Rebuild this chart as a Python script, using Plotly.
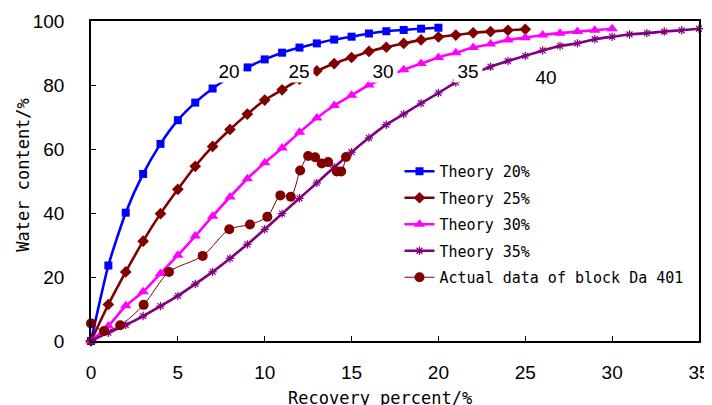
import plotly.graph_objects as go

# ---- data ----
x20 = list(range(0, 21))
y20 = [0, 23.6, 40.1, 52.2, 61.6, 69.0, 74.5, 78.9, 82.5, 85.5, 88.0,
       90.1, 91.7, 93.0, 94.2, 95.1, 96.1, 96.8, 97.2, 97.6, 97.9]

x25 = list(range(0, 26))
y25 = [0, 11.4, 21.6, 31.2, 39.8, 47.4, 54.6, 60.8, 66.1, 70.9, 75.3,
       78.5, 81.8, 84.4, 86.7, 88.6, 90.5, 91.8, 93.0, 94.1, 95.0,
       95.6, 96.3, 96.7, 97.1, 97.4]

x30 = list(range(0, 31))
y30 = [0, 4.7, 11.0, 15.4, 21.1, 26.8, 32.8, 39.0, 45.0, 50.7, 55.7,
       60.3, 65.2, 69.7, 73.6, 76.8, 80.0, 82.5, 84.8, 86.7, 88.6,
       90.1, 91.7, 92.8, 94.1, 94.8, 95.6, 96.2, 96.7, 97.1, 97.6]

x35 = list(range(0, 36))
y35 = [0, 2.6, 5.0, 7.8, 10.9, 14.1, 17.8, 21.6, 25.8, 30.2, 34.9,
       39.8, 44.6, 49.4, 54.3, 59.0, 63.5, 67.6, 70.9, 74.3, 77.5,
       80.8, 83.5, 85.7, 87.5, 89.1, 90.8, 92.2, 93.0, 94.3, 95.1,
       95.8, 96.2, 96.7, 97.1, 97.6]

x_actual = [0, 0.75, 1.68, 3.03, 4.49, 6.43, 7.96, 9.15, 10.15, 10.9,
            11.5, 12.04, 12.5, 12.9, 13.28, 13.65, 14.15, 14.4, 14.68]
y_actual = [5.5, 3.1, 4.9, 11.3, 21.6, 26.6, 34.9, 36.4, 38.8, 45.5,
            45.1, 53.3, 57.8, 57.4, 55.5, 55.9, 53.0, 53.0, 57.5]

series_names = ["Theory 20%", "Theory 25%", "Theory 30%", "Theory 35%",
                "Actual data of block Da 401"]

curve_labels = ["20", "25", "30", "35", "40"]
label_x = [7.97, 12.0, 16.8, 21.7, 26.2]
label_y = [84.4, 84.4, 84.4, 84.4, 82.4]

x_ticks = [0, 5, 10, 15, 20, 25, 30, 35]
y_ticks = [0, 20, 40, 60, 80, 100]

MONO = "DejaVu Sans Mono, monospace"
SANS = "Arial, Liberation Sans, sans-serif"

# page body has an 8px margin: figure drawn at (8, 8)
OFF = 8
W, H = 712 - OFF, 405 - OFF
PL, PR, PT, PB = 91 - OFF, 699 - OFF, 21 - OFF, 341 - OFF  # plot box in fig px
PW, PH = PR - PL, PB - PT

fig = go.Figure()

theory = [
    (x20, y20, "#0000FF", "square", 8),
    (x25, y25, "#800000", "diamond", 9),
    (x30, y30, "#FF00FF", "triangle-up", 10),
    (x35, y35, "#800080", "asterisk-open", 7),
]
for i, (xs, ys, col, sym, sz) in enumerate(theory):
    marker = dict(symbol=sym, size=sz, color=col)
    if sym == "asterisk-open":
        marker["line"] = dict(color=col, width=1.2)
    fig.add_trace(go.Scatter(
        x=xs, y=ys, mode="lines+markers", name=series_names[i],
        line=dict(color=col, width=2.6, shape="spline", smoothing=0.6),
        marker=marker, cliponaxis=False, legendgroup=str(i)))

fig.add_trace(go.Scatter(
    x=x_actual, y=y_actual, mode="lines+markers", name=series_names[4],
    line=dict(color="#800000", width=1, shape="spline", smoothing=0.8),
    marker=dict(symbol="circle", size=10, color="#800000"),
    cliponaxis=False, legendgroup="4"))

for t, lx, ly in zip(curve_labels, label_x, label_y):
    fig.add_annotation(x=lx, y=ly, xref="x", yref="y", text=t,
                       showarrow=False, bgcolor="white", borderpad=0,
                       width=28, height=22,
                       font=dict(family=SANS, size=19, color="black"))

# axis titles (page coords converted to paper coords)
fig.add_annotation(x=(380 - 91) / PW, y=-(398 - 341) / PH, xref="paper",
                   yref="paper", text="Recovery percent/%", showarrow=False,
                   xanchor="center", yanchor="middle",
                   font=dict(family=MONO, size=17, color="black"))
fig.add_annotation(x=(22.7 - 91) / PW, y=(341 - 175) / PH, xref="paper",
                   yref="paper", text="Water content/%", showarrow=False,
                   textangle=-90, xanchor="center", yanchor="middle",
                   font=dict(family=MONO, size=17, color="black"))

axis_common = dict(showline=True, linecolor="black", linewidth=1.5,
                   mirror=True, ticks="inside", ticklen=5, tickwidth=1,
                   tickcolor="black", showgrid=False, zeroline=False,
                   automargin=False,
                   tickfont=dict(family=SANS, size=19, color="black"))

fig.update_xaxes(range=[0, 35], tickvals=x_ticks, ticklabelstandoff=13,
                 **axis_common)
fig.update_yaxes(range=[0, 100], tickvals=y_ticks, ticklabelstandoff=21,
                 **axis_common)

fig.update_layout(
    width=W, height=H,
    margin=dict(l=PL, r=W - PR, t=PT, b=H - PB, autoexpand=False),
    paper_bgcolor="white", plot_bgcolor="white",
    showlegend=True,
    legend=dict(x=(399.5 - 91) / PW, y=(341 - 155) / PH,
                xanchor="left", yanchor="top",
                bgcolor="rgba(0,0,0,0)", borderwidth=0,
                tracegroupgap=4,
                font=dict(family=MONO, size=15, color="black")),
)

fig.write_html("out.html")
